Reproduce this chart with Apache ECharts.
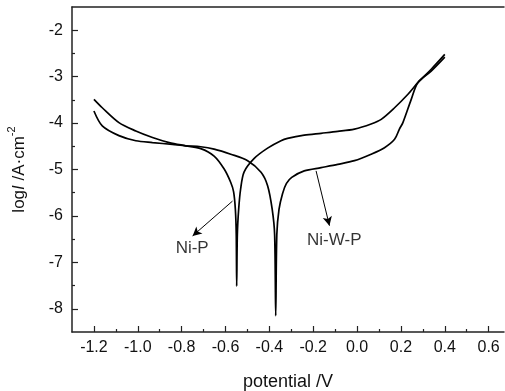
<!DOCTYPE html>
<html>
<head>
<meta charset="utf-8">
<script src="https://cdn.jsdelivr.net/npm/echarts@6/dist/echarts.min.js"></script>
<style>
  html, body { margin: 0; padding: 0; background: #fff; }
  #chart { width: 505px; height: 391px; }
</style>
</head>
<body>
<div id="chart"></div>
<script>
// Tafel curves, potential (V) vs log current density
var niP = [
  [-1.2, -3.49], [-1.162, -3.67], [-1.086, -3.99], [-1.009, -4.17], [-0.933, -4.31],
  [-0.857, -4.42], [-0.781, -4.49], [-0.713, -4.55], [-0.652, -4.71], [-0.606, -4.99],
  [-0.576, -5.28], [-0.563, -5.48], [-0.555, -5.86], [-0.551, -6.4], [-0.549, -7.51],
  [-0.546, -6.4], [-0.540, -5.86], [-0.531, -5.42], [-0.515, -5.05], [-0.469, -4.76],
  [-0.408, -4.54], [-0.347, -4.38], [-0.317, -4.33], [-0.241, -4.26], [-0.164, -4.22],
  [-0.088, -4.18], [-0.012, -4.13], [0.064, -4.02], [0.110, -3.92], [0.171, -3.67],
  [0.232, -3.38], [0.277, -3.13], [0.338, -2.84], [0.40, -2.52]
];
var niWP = [
  [-1.2, -3.74], [-1.162, -4.06], [-1.086, -4.27], [-1.009, -4.38], [-0.933, -4.42],
  [-0.842, -4.46], [-0.781, -4.49], [-0.713, -4.51], [-0.652, -4.56], [-0.576, -4.67],
  [-0.499, -4.81], [-0.438, -5.06], [-0.408, -5.35], [-0.387, -5.86], [-0.376, -6.4],
  [-0.371, -8.15], [-0.366, -6.4], [-0.356, -5.86], [-0.340, -5.52], [-0.322, -5.30],
  [-0.298, -5.17], [-0.241, -5.03], [-0.164, -4.96], [-0.088, -4.89], [-0.012, -4.81],
  [0.064, -4.67], [0.125, -4.53], [0.171, -4.35], [0.193, -4.13], [0.209, -3.99],
  [0.247, -3.49], [0.277, -3.13], [0.338, -2.88], [0.40, -2.58]
];

var xTicks = [-1.2, -1.0, -0.8, -0.6, -0.4, -0.2, 0.0, 0.2, 0.4, 0.6];
var xMinor = [-1.1, -0.9, -0.7, -0.5, -0.3, -0.1, 0.1, 0.3, 0.5];
var yTicks = [-8, -7, -6, -5, -4, -3, -2];
var yMinor = [-7.5, -6.5, -5.5, -4.5, -3.5, -2.5];

// arrow annotations: [from, to], then label position
var arrowNiP = [[-0.568, -5.68], [-0.750, -6.43]];
var arrowNiWP = [[-0.187, -5.03], [-0.126, -6.21]];
var labelNiP = [-0.752, -6.70];
var labelNiWP = [-0.104, -6.52];

var xMin = -1.3, xMax = 0.67, yMin = -8.5, yMax = -1.5;
var font = 'Liberation Sans, Arial, sans-serif';
var axisColor = '#222';

var myChart = echarts.init(document.getElementById('chart'));

function arrow(pts) {
  return {
    silent: true,
    symbol: ['none', 'arrow'],
    symbolSize: [7, 9],
    label: { show: false },
    lineStyle: { color: '#000', width: 1, type: 'solid' },
    data: [[{ coord: pts[0] }, { coord: pts[1] }]]
  };
}

var option = {
  animation: false,
  backgroundColor: '#fff',
  grid: { left: 72, right: 1, top: 7, bottom: 59, containLabel: false, outerBoundsMode: 'none' },
  xAxis: [
    {
      type: 'value', min: xMin, max: xMax, position: 'bottom',
      name: 'potential /V', nameLocation: 'middle', nameGap: 41,
      nameTextStyle: { fontFamily: font, fontSize: 18, color: '#111' },
      axisLine: { show: true, onZero: false, lineStyle: { color: axisColor, width: 1.5 } },
      axisTick: { show: true, inside: true, length: 6, customValues: xTicks, lineStyle: { color: axisColor, width: 1.2 } },
      axisLabel: {
        customValues: xTicks, margin: 8, fontFamily: font, fontSize: 16, color: '#111',
        formatter: function (v) { return v.toFixed(1); }
      },
      splitLine: { show: false }
    },
    {
      type: 'value', min: xMin, max: xMax, position: 'bottom',
      axisLine: { show: false, onZero: false },
      axisTick: { show: true, inside: true, length: 3, customValues: xMinor, lineStyle: { color: axisColor, width: 1.2 } },
      axisLabel: { show: false },
      splitLine: { show: false }
    },
    {
      type: 'value', min: xMin, max: xMax, position: 'top',
      axisLine: { show: true, onZero: false, lineStyle: { color: axisColor, width: 1.5 } },
      axisTick: { show: false },
      axisLabel: { show: false },
      splitLine: { show: false }
    }
  ],
  yAxis: [
    {
      type: 'value', min: yMin, max: yMax, position: 'left',
      name: '{n|log}{i|I}{n| /A·cm}{s|-2}',
      nameLocation: 'middle', nameGap: 44, nameRotate: 90,
      nameTextStyle: {
        fontFamily: font, fontSize: 17, color: '#111',
        rich: {
          n: { fontFamily: font, fontSize: 17, color: '#111', lineHeight: 22, verticalAlign: 'bottom' },
          i: { fontFamily: font, fontSize: 17, color: '#111', fontStyle: 'italic', lineHeight: 22, verticalAlign: 'bottom' },
          s: { fontFamily: font, fontSize: 11, color: '#111', lineHeight: 22, verticalAlign: 'top' }
        }
      },
      axisLine: { show: true, onZero: false, lineStyle: { color: axisColor, width: 1.5 } },
      axisTick: { show: true, inside: true, length: 6, customValues: yTicks, lineStyle: { color: axisColor, width: 1.2 } },
      axisLabel: {
        customValues: yTicks, margin: 9, fontFamily: font, fontSize: 16, color: '#111'
      },
      splitLine: { show: false }
    },
    {
      type: 'value', min: yMin, max: yMax, position: 'left',
      axisLine: { show: false, onZero: false },
      axisTick: { show: true, inside: true, length: 3, customValues: yMinor, lineStyle: { color: axisColor, width: 1.2 } },
      axisLabel: { show: false },
      splitLine: { show: false }
    }
  ],
  series: [
    {
      name: 'Ni-P', type: 'line', data: niP, smooth: 0.3,
      showSymbol: false, lineStyle: { color: '#000', width: 1.7 },
      markLine: arrow(arrowNiP)
    },
    {
      name: 'Ni-W-P', type: 'line', data: niWP, smooth: 0.3,
      showSymbol: false, lineStyle: { color: '#000', width: 1.7 },
      markLine: arrow(arrowNiWP)
    },
    {
      type: 'scatter', symbolSize: 0, silent: true,
      data: [
        { value: labelNiP, name: 'Ni-P' },
        { value: labelNiWP, name: 'Ni-W-P' }
      ],
      label: {
        show: true, position: 'inside', formatter: '{b}',
        fontFamily: font, fontSize: 17, color: '#000',
        textBorderWidth: 0
      }
    }
  ]
};

if (option && typeof option === 'object') {
  myChart.setOption(option);
}
window.addEventListener('resize', myChart.resize);
</script>
</body>
</html>
